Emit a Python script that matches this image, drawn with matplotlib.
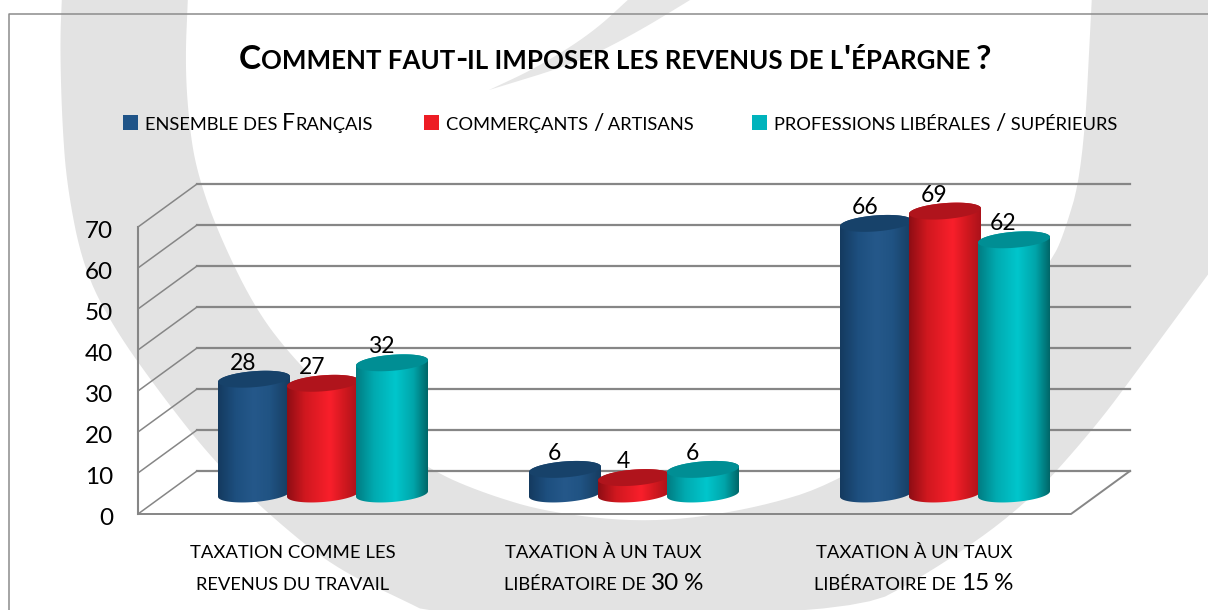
import numpy as np
import matplotlib
matplotlib.use('Agg')
import matplotlib.pyplot as plt
from matplotlib.colors import LinearSegmentedColormap
from matplotlib.patches import Polygon, Rectangle
from matplotlib.transforms import ScaledTranslation

title = "Comment faut-il imposer les revenus de l'épargne ?"
series_names = ['ensemble des Français', 'commerçants / artisans', 'professions libérales / supérieurs']
category_lines = [['taxation comme les', 'revenus du travail'],
                  ['taxation à un taux', 'libératoire de 30 %'],
                  ['taxation à un taux', 'libératoire de 15 %']]
ensemble = [28, 6, 66]
commercants = [27, 4, 69]
professions = [32, 6, 62]
y_ticks = [0, 10, 20, 30, 40, 50, 60, 70]

legend_colors = ['#1f5488', '#ed1c24', '#00b3bc']
top_colors = ['#17426a', '#b0141c', '#008e94']
body_stops = [
    [(0, '#143a5f'), (.25, '#1d4f7f'), (.5, '#25588a'), (.72, '#205383'), (1, '#163c60')],
    [(0, '#8e0d14'), (.25, '#d0181f'), (.6, '#f91f2b'), (.8, '#d0181f'), (1, '#a8121a')],
    [(0, '#007c82'), (.25, '#00aab0'), (.55, '#00c6cc'), (.8, '#00a5aa'), (1, '#006668')],
]
GRID = '#868686'
BAND = '#e3e3e3'

plt.rcParams['font.family'] = ['Lato', 'DejaVu Sans']

fig = plt.figure(figsize=(12.08, 6.10), dpi=100)
renderer = fig.canvas.get_renderer()

# backdrop in pixel coordinates
bg = fig.add_axes([0, 0, 1, 1], zorder=0)
bg.set_xlim(0, 1208)
bg.set_ylim(610, 0)
bg.axis('off')


def chaikin(pts, n=3):
    pts = np.array(pts, float)
    for _ in range(n):
        q = .75 * pts[:-1] + .25 * pts[1:]
        r = .25 * pts[:-1] + .75 * pts[1:]
        new = np.empty((len(q) * 2, 2))
        new[0::2] = q
        new[1::2] = r
        pts = np.vstack([pts[0], new, pts[-1]])
    return pts


outer = [(62, -5), (60, 43), (62, 120), (67, 187), (83, 267), (113, 327), (163, 397), (213, 460), (267, 513),
         (333, 567), (403, 600), (433, 615), (850, 615), (930, 573), (1024, 507), (1093, 430), (1140, 367),
         (1215, 265)]
inner = [(1092, -5), (1083, 170), (1062, 240), (1050, 262), (960, 400), (839, 483), (749, 510), (650, 523),
         (550, 513), (483, 493), (430, 470), (350, 415), (290, 355), (253, 305), (217, 230), (198, 175),
         (190, 133), (185, 67), (188, -5)]
ring = np.vstack([chaikin(outer), [(1215, -5)], chaikin(inner)])
bg.add_patch(Polygon(ring, closed=True, fc=BAND, ec='none'))
wedge = np.vstack([chaikin([(695, -3), (636, 33), (577, 63), (489, 90)]),
                   chaikin([(489, 90), (538, 67), (592, 33), (631, -3)])])
bg.add_patch(Polygon(wedge, closed=True, fc='#e6e6e6', ec='none'))
bg.plot([8.5, 8.5, 1208], [610, 13.5, 13.5], color='#8c8c8c', lw=1.1)


def text_w(s, size, weight):
    t = bg.text(0, 0, '.' + s + '.', fontsize=size, fontweight=weight)
    w = t.get_window_extent(renderer).width
    t.remove()
    t = bg.text(0, 0, '..', fontsize=size, fontweight=weight)
    w -= t.get_window_extent(renderer).width
    t.remove()
    return w


def small_caps(x, y, s, big, small, weight='normal', ha='left', color='black'):
    # word processor style small caps, one text per run of equal size
    runs = []
    for ch in s:
        low = ch.islower() or ch == ' '
        size = small if low else big
        if runs and runs[-1][1] == size:
            runs[-1][0] += ch.upper()
        else:
            runs.append([ch.upper(), size])
    widths = [text_w(r[0], r[1], weight) for r in runs]
    if ha == 'center':
        x -= sum(widths) / 2
    for (txt, size), w in zip(runs, widths):
        bg.text(x, y, txt, fontsize=size, fontweight=weight, color=color, va='baseline', ha='left')
        x += w


small_caps(615, 69, title, 24, 18.6, weight='bold', ha='center')

legend_x = [123, 424, 752]
for name, col, lx in zip(series_names, legend_colors, legend_x):
    bg.add_patch(Rectangle((lx, 115), 15, 15, fc=col, ec='none'))
    small_caps(lx + 22, 130, name, 16.5, 13.2)

for i, lines in enumerate(category_lines):
    cx = 293 + 310.5 * i
    small_caps(cx, 558, lines[0], 17.5, 13.3, ha='center')
    small_caps(cx, 590, lines[1], 17.5, 13.2, ha='center')

# chart axes: the front plane of the box
ax = fig.add_axes([138 / 1208, (610 - 514) / 610, 933 / 1208, 330 / 610], zorder=1)
ax.patch.set_alpha(0)
PX_X = 311.0
PX_Y = 4.1
ax.set_xlim(0, 3)
ax.set_ylim(0, 330 / PX_Y)
for sp in ax.spines.values():
    sp.set_visible(False)
ax.set_xticks([])
ax.set_yticks(y_ticks)
ax.tick_params(axis='y', length=0, pad=18, labelsize=17.5)
nudge = ScaledTranslation(0, -2.5 / 100, fig.dpi_scale_trans)
for lab in ax.get_yticklabels():
    lab.set_transform(lab.get_transform() + nudge)

dx = 59 / PX_X
dy = 43 / PX_Y

for v in y_ticks:
    ax.plot([0, dx], [v, v + dy], color=GRID, lw=1.1, clip_on=False, zorder=1)
    ax.plot([dx, 3 + dx], [v + dy, v + dy], color=GRID, lw=1.6, clip_on=False, zorder=1)
ax.plot([0, 0], [0, 70], color=GRID, lw=1.5, clip_on=False, zorder=1)
ax.plot([0, 3, 3 + dx], [0, 0, dy], color=GRID, lw=1.4, clip_on=False, zorder=1)

half_w = 36 / PX_X
ry = 8.0 / PX_Y
tilt = 2.75 / PX_Y
base = 20 / PX_Y
t_low = np.linspace(np.pi, 2 * np.pi, 60)
t_up = np.linspace(0, np.pi, 60)
t_all = np.linspace(0, 2 * np.pi, 120)

z = 5
for j, vals in enumerate([ensemble, commercants, professions]):
    cmap = LinearSegmentedColormap.from_list('c%d' % j, body_stops[j])
    for i, v in enumerate(vals):
        cx = i + .5 + dx / 2 + (j - 1) * 69 / PX_X
        lower = np.c_[cx + half_w * np.cos(t_low), base + ry * np.sin(t_low) + tilt * np.cos(t_low)]
        upper = np.c_[cx + half_w * np.cos(t_up), base + v + ry * np.sin(t_up) + tilt * np.cos(t_up)]
        body = Polygon(np.vstack([lower, upper]), closed=True, fc='none', ec='none', zorder=z)
        ax.add_patch(body)
        im = ax.imshow(np.linspace(0, 1, 256).reshape(1, -1), cmap=cmap, aspect='auto', zorder=z,
                       extent=[cx - half_w, cx + half_w, base - 5, base + v + 5], interpolation='bilinear')
        im.set_clip_path(body)
        cap = np.c_[cx + half_w * np.cos(t_all), base + v + ry * np.sin(t_all) + tilt * np.cos(t_all)]
        ax.add_patch(Polygon(cap, closed=True, fc=top_colors[j], ec='none', zorder=z + .5, clip_on=False))
        ax.annotate(str(v), (cx, base + v), xytext=(-11, 16), textcoords='offset pixels', ha='center',
                    va='center', fontsize=16.5, zorder=20, annotation_clip=False)
        z += 1

ax.set_xlim(0, 3)
ax.set_ylim(0, 330 / PX_Y)

fig.savefig('out.png', dpi=100)
